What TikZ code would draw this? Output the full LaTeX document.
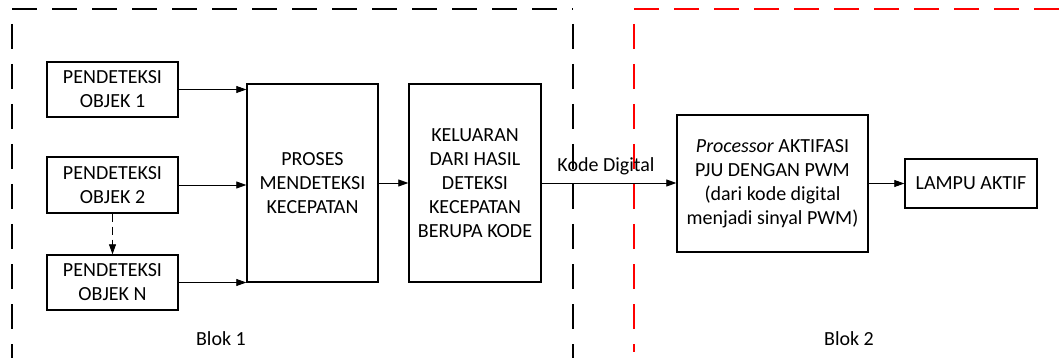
\documentclass[tikz,border=0pt]{standalone}
\usepackage{fontspec}
\setmainfont{Carlito}
\usetikzlibrary{arrows.meta}
\begin{document}
\begin{tikzpicture}[x=1pt,y=-1pt,
  blk/.style={draw,line width=1.4pt,align=center,inner sep=0pt,
    font=\fontsize{20}{24}\selectfont},
  arr/.style={line width=0.8pt,-{Triangle[length=10pt,width=7pt]}},
  dsh/.style={line width=1.5pt,dash pattern=on 25pt off 15pt},
  lbl/.style={font=\fontsize{20}{24}\selectfont}]
\useasboundingbox (0,0) rectangle (1060,358);
% block frames
\draw[dsh] (12,9) -- (573,9);
\draw[dsh,dash phase=25pt] (12,9) -- (12,358);
\draw[dsh,dash phase=25pt] (573,9) -- (573,358);
\draw[dsh,red] (634,9) -- (1060,9);
\draw[dsh,red,dash phase=25pt] (634,9) -- (634,352);
% boxes
\node[blk,minimum width=131pt,minimum height=55pt] (o1) at (112.5,89.5) {PENDETEKSI\\OBJEK 1};
\node[blk,minimum width=131pt,minimum height=56pt] (o2) at (112.5,185) {PENDETEKSI\\OBJEK 2};
\node[blk,minimum width=131pt,minimum height=55pt] (oN) at (112.5,282.5) {PENDETEKSI\\OBJEK N};
\node[blk,minimum width=131pt,minimum height=198pt] (pr) at (312.5,183) {PROSES\\MENDETEKSI\\KECEPATAN};
\node[blk,minimum width=132pt,minimum height=198pt] (ke) at (475,183) {KELUARAN\\DARI HASIL\\DETEKSI\\KECEPATAN\\BERUPA KODE};
\node[blk,minimum width=191pt,minimum height=137pt] (pc) at (772.5,183.5) {\textit{Processor} AKTIFASI\\PJU DENGAN PWM\\(dari kode digital\\menjadi sinyal PWM)};
\node[blk,minimum width=132pt,minimum height=49pt] (la) at (971,183.5) {LAMPU AKTIF};
% connectors
\draw[arr] (o1.east) -- (o1.east -| pr.west);
\draw[arr] (o2.east) -- (o2.east -| pr.west);
\draw[arr] (oN.east) -- (oN.east -| pr.west);
\draw[arr,dash pattern=on 8pt off 5pt] (o2.south) -- (oN.north);
\draw[arr] (pr.east) -- (pr.east -| ke.west);
\draw[arr] (ke.east) -- node[lbl,above=4pt,xshift=-3pt] (kd) {Kode Digital} (ke.east -| pc.west);
\draw[arr] (pc.east) -- (pc.east -| la.west);
% labels
\node[lbl] (b1) at (221,339) {Blok 1};
\node[lbl] (b2) at (849,339) {Blok 2};
\end{tikzpicture}
\end{document}
